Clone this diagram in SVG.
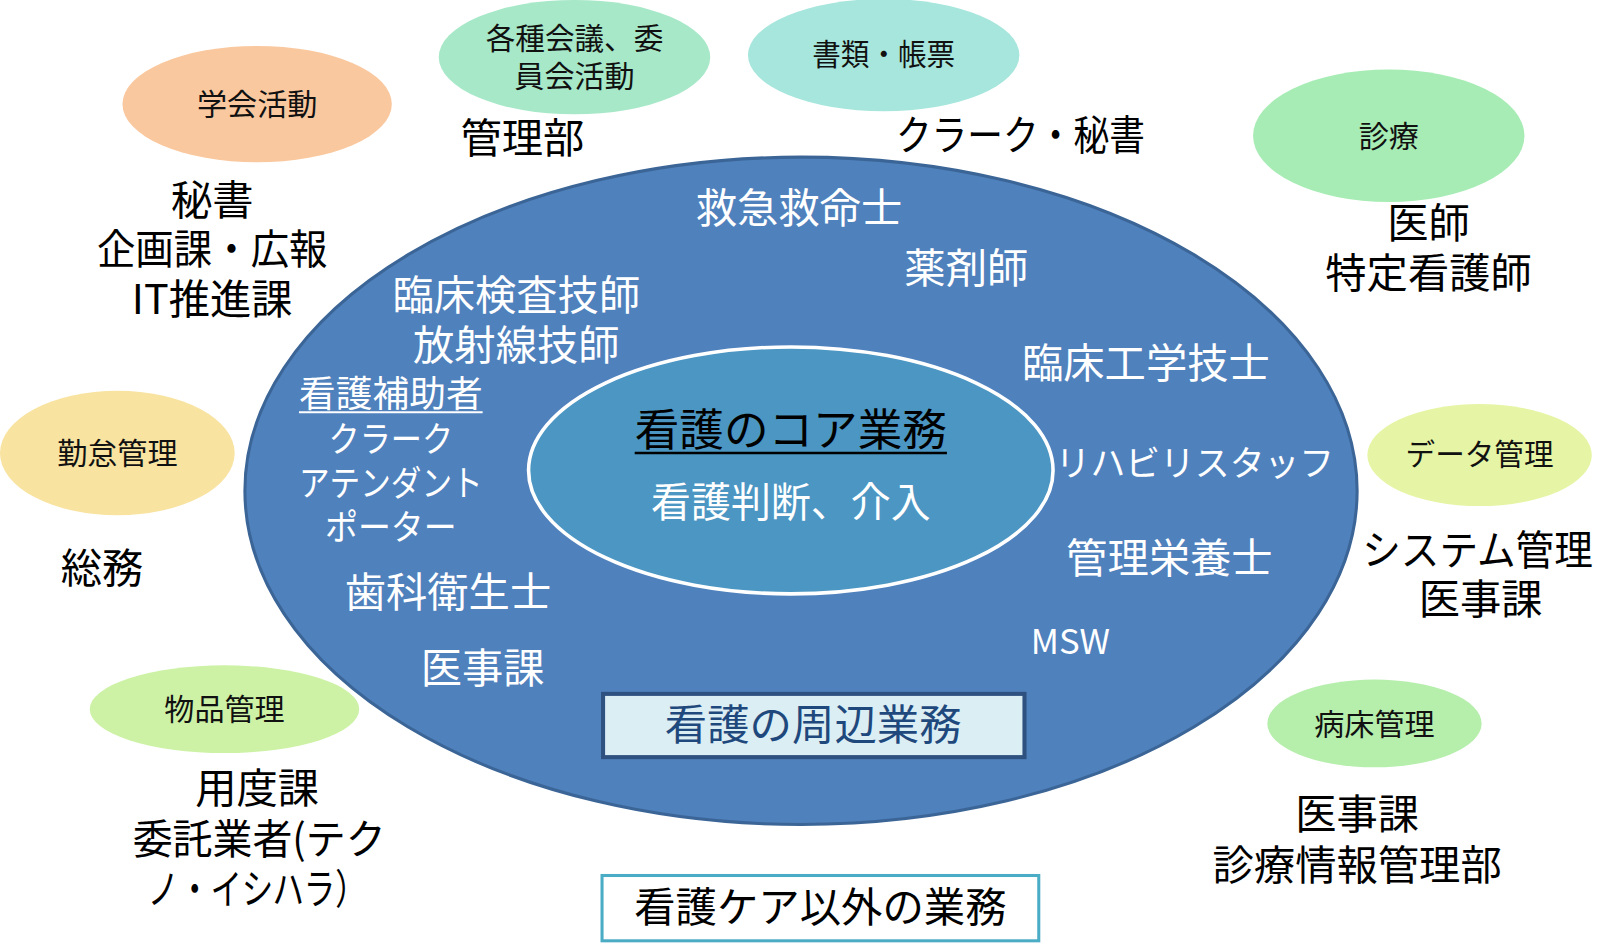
<svg xmlns="http://www.w3.org/2000/svg" width="1600" height="945" viewBox="0 0 1600 945">
<style>
text{font-family:"Noto Sans CJK JP","Noto Sans",sans-serif;text-anchor:middle}
.sm{font-size:29.5px;fill:#111}
.out{font-size:40.5px;fill:#000}
.in{font-size:40.5px;fill:#fff}
.kana{font-size:35px;fill:#fff}
</style>
<rect x="0" y="0" width="1600" height="945" fill="#fff"/>
<g id="diagram" transform="scale(1.0204)">
<g id="outer-ellipse">
<ellipse cx="785" cy="481" rx="545" ry="327" fill="#4f81bd" stroke="#3b6596" stroke-width="3"/>
</g>
<g id="core">
<ellipse cx="775" cy="461" rx="257" ry="121" fill="#4b96c3" stroke="#fff" stroke-width="3.5"/>
<text x="775" y="437" style="font-size:44px;fill:#000" textLength="306" lengthAdjust="spacingAndGlyphs">看護のコア業務</text>
<line x1="622" y1="444" x2="928" y2="444" stroke="#000" stroke-width="2.5"/>
<text x="775" y="507" class="in" textLength="274" lengthAdjust="spacingAndGlyphs">看護判断、介入</text>
</g>
<g id="inner-labels">
<text x="783" y="219" class="in">救急救命士</text>
<text x="947" y="277" class="in">薬剤師</text>
<text x="506" y="304" class="in">臨床検査技師</text>
<text x="506" y="353" class="in">放射線技師</text>
<text x="383" y="399" style="font-size:36px;fill:#fff">看護補助者</text>
<line x1="293" y1="404" x2="473" y2="404" stroke="#fff" stroke-width="2"/>
<text x="383" y="443" class="kana" textLength="122" lengthAdjust="spacingAndGlyphs">クラーク</text>
<text x="383" y="486" class="kana" textLength="180" lengthAdjust="spacingAndGlyphs">アテンダント</text>
<text x="383" y="529" class="kana" textLength="129" lengthAdjust="spacingAndGlyphs">ポーター</text>
<text x="439" y="595" class="in">歯科衛生士</text>
<text x="473" y="669" class="in">医事課</text>
<text x="1123" y="370" class="in">臨床工学技士</text>
<text x="1171" y="466" class="kana" textLength="273" lengthAdjust="spacingAndGlyphs">リハビリスタッフ</text>
<text x="1146" y="562" class="in">管理栄養士</text>
<text x="1049" y="641" style="font-size:34px;fill:#fff">MSW</text>
</g>
<g id="peripheral-box">
<rect x="591" y="680" width="413" height="62" fill="#dbeef4" stroke="#2f5180" stroke-width="4"/>
<text x="797" y="725" style="font-size:41px;fill:#1f497d" textLength="291" lengthAdjust="spacingAndGlyphs">看護の周辺業務</text>
</g>
<g id="non-care-box">
<rect x="590" y="858" width="428" height="64" fill="#fff" stroke="#4bacc6" stroke-width="3"/>
<text x="804" y="904" style="font-size:40.5px;fill:#000" textLength="365" lengthAdjust="spacingAndGlyphs">看護ケア以外の業務</text>
</g>
<g id="gakkai">
<ellipse cx="252" cy="102" rx="132" ry="57" fill="#fac89e"/>
<text x="252" y="113" class="sm">学会活動</text>
<text x="208" y="211" class="out">秘書</text>
<text x="208" y="259" class="out" textLength="226" lengthAdjust="spacingAndGlyphs">企画課・広報</text>
<text x="208" y="308" class="out">IT推進課</text>
</g>
<g id="kaigi">
<ellipse cx="563" cy="56" rx="133" ry="56" fill="#a7e8c8"/>
<text x="563" y="48" class="sm" textLength="174" lengthAdjust="spacingAndGlyphs">各種会議、委</text>
<text x="563" y="85" class="sm">員会活動</text>
<text x="512" y="150" class="out">管理部</text>
</g>
<g id="shorui">
<ellipse cx="866" cy="54" rx="133" ry="55" fill="#a6e6dc"/>
<text x="866" y="64" class="sm" textLength="140" lengthAdjust="spacingAndGlyphs">書類・帳票</text>
<text x="1000" y="147" class="out" textLength="244" lengthAdjust="spacingAndGlyphs">クラーク・秘書</text>
</g>
<g id="shinryo">
<ellipse cx="1361" cy="133" rx="133" ry="65" fill="#a6ecb4"/>
<text x="1361" y="144" class="sm">診療</text>
<text x="1400" y="233" class="out">医師</text>
<text x="1400" y="282" class="out">特定看護師</text>
</g>
<g id="kintai">
<ellipse cx="115" cy="444" rx="115" ry="61" fill="#f8e3a0"/>
<text x="115" y="455" class="sm">勤怠管理</text>
<text x="100" y="571" class="out">総務</text>
</g>
<g id="data">
<ellipse cx="1450" cy="446" rx="110" ry="50" fill="#e6f5a5"/>
<text x="1450" y="456" class="sm" textLength="145" lengthAdjust="spacingAndGlyphs">データ管理</text>
<text x="1448" y="554" class="out" textLength="226" lengthAdjust="spacingAndGlyphs">システム管理</text>
<text x="1451" y="602" class="out">医事課</text>
</g>
<g id="buppin">
<ellipse cx="220" cy="695" rx="132" ry="43" fill="#cdf2a6"/>
<text x="220" y="706" class="sm">物品管理</text>
<text x="252" y="787" class="out">用度課</text>
<text x="254" y="837" class="out" textLength="248" lengthAdjust="spacingAndGlyphs">委託業者(テク</text>
<text x="252" y="886" class="out" textLength="215" lengthAdjust="spacingAndGlyphs">ノ・イシハラ）</text>
</g>
<g id="byosho">
<ellipse cx="1347" cy="709" rx="105" ry="43" fill="#b6eeac"/>
<text x="1347" y="720" class="sm">病床管理</text>
<text x="1330" y="812" class="out">医事課</text>
<text x="1330" y="862" class="out">診療情報管理部</text>
</g>
</g>
</svg>
